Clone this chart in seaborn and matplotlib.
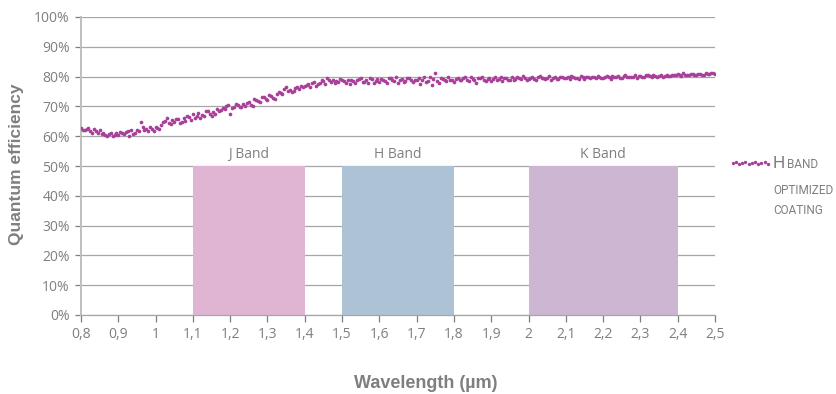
import numpy as np
import pandas as pd
import matplotlib
matplotlib.use("Agg")
import matplotlib.pyplot as plt
import seaborn as sns

# sampling wavelengths (µm)
wl_a = np.round(np.arange(0.80, 2.5001, 0.01), 3)
wl_b = np.round(np.arange(0.805, 2.4951, 0.01), 3)

# quantum efficiency (%)
qe_a = [
    62.6, 62.2, 62.7, 61.2, 61.8, 62.0, 61.2, 59.9, 61.0, 60.4,
    60.5, 61.1, 61.5, 60.2, 60.6, 62.0, 64.9, 62.0, 61.6, 62.5,
    63.0, 62.4, 64.7, 66.1, 64.0, 64.6, 65.7, 64.8, 65.0, 66.3,
    67.3, 66.7, 66.0, 66.7, 68.3, 66.7, 67.4, 68.3, 69.5, 70.0,
    67.5, 69.8, 70.5, 69.7, 70.3, 71.6, 70.2, 72.0, 71.5, 73.2,
    72.2, 73.5, 72.6, 75.0, 74.0, 76.6, 75.5, 75.2, 76.5, 77.0,
    76.8, 77.5, 77.7, 76.9, 78.0, 78.4, 79.4, 78.3, 77.8, 78.3,
    78.9, 78.0, 77.6, 78.5, 78.7, 79.4, 78.3, 77.9, 79.2, 78.6,
    78.3, 79.0, 78.0, 79.6, 78.5, 77.8, 79.1, 78.4, 79.5, 78.2,
    78.9, 77.5, 79.7, 78.6, 77.2, 81.1, 78.0, 79.3, 78.5, 79.0,
    78.2, 79.6, 78.8, 79.9, 78.4, 79.1, 78.0, 79.5, 78.9, 79.2,
    78.6, 79.8, 79.1, 78.5, 79.6, 79.0, 78.8, 79.9, 79.3, 79.6,
    79.1, 79.7, 79.0, 80.2, 79.4, 79.6, 78.9, 79.8, 79.2, 80.0,
    79.5, 79.1, 79.9, 79.4, 80.3, 79.2, 79.7, 80.0, 79.4, 79.9,
    79.6, 80.2, 79.3, 79.8, 80.1, 79.5, 80.4, 79.7, 80.0, 79.6,
    80.2, 79.8, 80.5, 79.9, 80.1, 80.3, 79.7, 80.6, 80.2, 80.4,
    80.8, 80.3, 80.7, 80.5, 80.9, 80.4, 81.0, 80.6, 80.8, 81.2,
    81.0,
]
qe_b = [
    62.0, 62.4, 61.6, 62.3, 61.0, 60.8, 60.3, 60.9, 60.1, 61.2,
    61.4, 60.7, 61.9, 62.2, 61.0, 61.8, 63.1, 62.4, 63.0, 61.9,
    62.8, 63.6, 65.1, 64.3, 65.4, 65.9, 64.5, 66.0, 66.8, 65.6,
    66.2, 67.8, 67.0, 68.6, 67.4, 68.0, 69.2, 68.8, 69.1, 70.4,
    69.3, 70.9, 69.9, 70.8, 71.2, 70.6, 72.4, 71.8, 73.0, 72.5,
    73.8, 72.9, 74.3, 74.6, 75.8, 75.1, 74.7, 76.2, 75.9, 76.4,
    77.3, 76.5, 78.1, 77.4, 78.7, 77.6, 78.8, 78.9, 78.4, 79.1,
    78.4, 79.0, 78.9, 77.8, 79.3, 78.1, 78.8, 79.5, 78.0, 79.1,
    79.3, 78.6, 79.4, 78.8, 79.7, 78.9, 78.3, 79.6, 79.0, 78.7,
    79.4, 78.8, 78.3, 79.9, 79.2, 78.6, 79.5, 78.9, 79.8, 78.7,
    79.3, 78.9, 79.4, 79.0, 79.7, 78.7, 79.5, 79.8, 78.6, 79.4,
    79.2, 79.0, 79.7, 79.4, 78.9, 79.8, 79.3, 79.5, 80.1, 79.0,
    79.5, 79.3, 80.0, 79.6, 79.1, 80.1, 79.5, 79.3, 79.9, 79.6,
    79.8, 80.1, 79.6, 79.3, 79.8, 80.0, 79.4, 79.9, 80.2, 79.5,
    79.9, 79.7, 80.3, 79.9, 79.6, 80.2, 80.0, 79.8, 80.4, 80.1,
    79.9, 80.4, 80.1, 80.6, 80.0, 80.5, 80.3, 80.1, 80.7, 80.5,
    80.6, 81.1, 80.5, 80.8, 80.6, 81.0, 80.7, 81.1, 80.9, 81.1,
]

band_names = ["J Band", "H Band", "K Band"]
band_start = [1.1, 1.5, 2.0]
band_end = [1.4, 1.8, 2.4]
band_top = [50, 50, 50]
band_colors = ["#e0b5d4", "#adc2d4", "#cdb6d2"]

x_ticks = [0.8, 0.9, 1.0, 1.1, 1.2, 1.3, 1.4, 1.5, 1.6, 1.7, 1.8, 1.9,
           2.0, 2.1, 2.2, 2.3, 2.4, 2.5]
x_tick_labels = ["0,8", "0,9", "1", "1,1", "1,2", "1,3", "1,4", "1,5", "1,6",
                 "1,7", "1,8", "1,9", "2", "2,1", "2,2", "2,3", "2,4", "2,5"]
y_ticks = list(range(0, 101, 10))
y_tick_labels = [f"{v}%" for v in y_ticks]

sns.set_theme(style="white")
plt.rcParams["font.family"] = ["Open Sans", "DejaVu Sans"]

GRAY = "#7f7f7f"
DOT = "#a8409a"

df = pd.DataFrame({
    "wl": np.concatenate([wl_a, wl_b]),
    "qe": qe_a + qe_b,
})

fig = plt.figure(figsize=(8.37, 3.94), dpi=100)
ax = fig.add_axes([81 / 837, 1 - 315 / 394, 634 / 837, 298 / 394])

# grid
for v in y_ticks:
    ax.axhline(v, color="#a6a6a6", lw=0.9, zorder=0)

# band boxes
for name, x0, x1, top, c in zip(band_names, band_start, band_end, band_top, band_colors):
    ax.fill_between([x0, x1], 0, top, color=c, lw=0, zorder=1)
    ax.text((x0 + x1) / 2, top + 1.5, name, ha="center", va="bottom",
            fontsize=10, color=GRAY)

sns.scatterplot(data=df, x="wl", y="qe", ax=ax, color=DOT, s=7,
                linewidth=0, zorder=3, legend=False)

ax.set_xlim(0.8, 2.5)
ax.set_ylim(0, 100)
ax.set_xticks(x_ticks)
ax.set_xticklabels(x_tick_labels)
ax.set_yticks(y_ticks)
ax.set_yticklabels(y_tick_labels)
ax.tick_params(axis="x", colors=GRAY, labelsize=10, length=5, width=0.9,
               direction="out", pad=4, bottom=True)
ax.tick_params(axis="y", colors=GRAY, labelsize=10, length=4, width=0.9,
               direction="out", pad=4, left=True)
for s in ["top", "right"]:
    ax.spines[s].set_visible(False)
ax.spines["left"].set_color("#bfbfbf")
ax.spines["left"].set_linewidth(1.4)
ax.spines["bottom"].set_color("#a6a6a6")
ax.spines["bottom"].set_linewidth(0.9)

ax.set_xlabel("Wavelength (µm)", fontsize=13, fontweight="bold", color=GRAY,
              family=["Liberation Sans", "DejaVu Sans"])
ax.xaxis.set_label_coords(0.544, -0.2)
ax.set_ylabel("Quantum efficiency", fontsize=12.5, fontweight="bold", color=GRAY,
              family=["Liberation Sans", "DejaVu Sans"])
ax.yaxis.set_label_coords(-0.09, 0.505)

# legend
leg = ax.legend([ax.collections[-1]], [""], loc="upper left",
                bbox_to_anchor=(728 / 837, 1 - 156 / 394),
                bbox_transform=fig.transFigure, frameon=False,
                scatterpoints=12, handlelength=2.9, handletextpad=0,
                borderpad=0, borderaxespad=0)
for h in leg.legend_handles:
    h.set_sizes([6])

fig.text(773 / 837, 1 - 163 / 394, "H", fontsize=12.5, color=GRAY, va="center",
         family=["Roboto", "DejaVu Sans"])
fig.text(787 / 837, 1 - 164.5 / 394, "BAND", fontsize=8.5, color=GRAY, va="center",
         family=["Roboto", "DejaVu Sans"])
fig.text(773 / 837, 1 - 190 / 394, "OPTIMIZED", fontsize=8.5, color=GRAY,
         va="center", family=["Roboto", "DejaVu Sans"])
fig.text(773 / 837, 1 - 211 / 394, "COATING", fontsize=8.5, color=GRAY,
         va="center", family=["Roboto", "DejaVu Sans"])

fig.savefig("out.png", dpi=100, facecolor="white")
